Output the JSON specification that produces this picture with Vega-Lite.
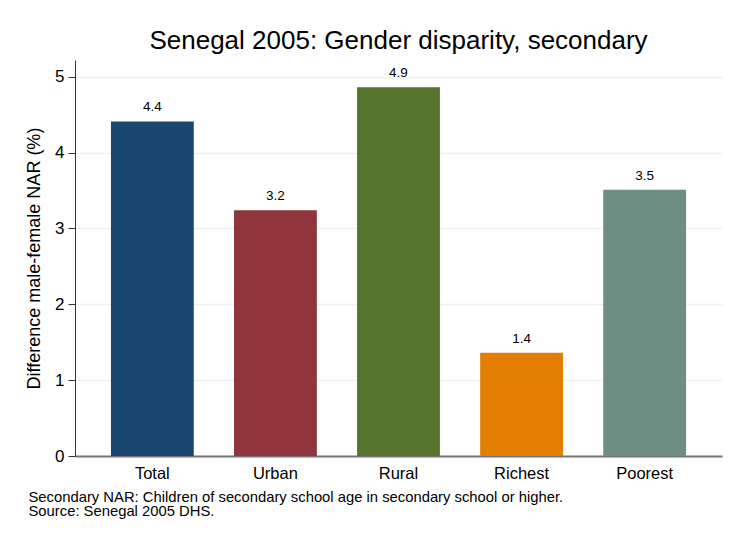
{
  "$schema": "https://vega.github.io/schema/vega-lite/v6.json",
  "width": 647,
  "height": 396,
  "autosize": {"type": "none"},
  "padding": {"left": 75, "top": 60, "right": 8, "bottom": 80},
  "background": "white",
  "config": {
    "font": "Liberation Sans",
    "view": {"stroke": null},
    "axis": {"labelColor": "#000", "titleColor": "#000", "titleFontWeight": "normal", "labelFont": "Liberation Sans", "titleFont": "Liberation Sans"}
  },
  "title": {
    "text": "Senegal 2005: Gender disparity, secondary",
    "fontSize": 26,
    "fontWeight": "normal",
    "color": "#000",
    "anchor": "middle",
    "baseline": "alphabetic",
    "offset": 9,
    "dy": 24
  },
  "data": {
    "values": [
      {"category": "Total", "value": 4.41},
      {"category": "Urban", "value": 3.24},
      {"category": "Rural", "value": 4.86},
      {"category": "Richest", "value": 1.36},
      {"category": "Poorest", "value": 3.51}
    ]
  },
  "encoding": {
    "x": {
      "field": "category",
      "type": "nominal",
      "sort": null,
      "scale": {"paddingInner": 0.327, "paddingOuter": 0.292},
      "axis": {
        "title": ["Secondary NAR: Children of secondary school age in secondary school or higher.", "Source: Senegal 2005 DHS."],
        "titleFontSize": 14.8,
        "titleLineHeight": 14.5,
        "titleAlign": "left",
        "titleAnchor": "start",
        "titleBaseline": "top",
        "titleX": -47,
        "titleY": 33,
        "labelAngle": 0,
        "labelFontSize": 16.5,
        "labelPadding": 9,
        "ticks": false,
        "domainColor": "#777777",
        "domainWidth": 2,
        "grid": false
      }
    },
    "y": {
      "field": "value",
      "type": "quantitative",
      "scale": {"domain": [0, 5.22], "nice": false},
      "axis": {
        "values": [0, 1, 2, 3, 4, 5],
        "title": "Difference male-female NAR (%)",
        "titleFontSize": 18,
        "titlePadding": 11,
        "labelFontSize": 17,
        "labelPadding": 4,
        "tickSize": 7,
        "tickColor": "#333333",
        "domainColor": "#333333",
        "grid": true,
        "gridColor": "#eaf2f3",
        "gridWidth": 1.5
      }
    }
  },
  "layer": [
    {
      "mark": {"type": "bar"},
      "encoding": {
        "color": {
          "field": "category",
          "type": "nominal",
          "sort": null,
          "scale": {
            "domain": ["Total", "Urban", "Rural", "Richest", "Poorest"],
            "range": ["#1a476f", "#90353b", "#55752f", "#e37e00", "#6e8e84"]
          },
          "legend": null
        }
      }
    },
    {
      "mark": {"type": "text", "baseline": "alphabetic", "dy": -10, "fontSize": 13.5, "color": "#000"},
      "encoding": {
        "text": {"field": "value", "type": "quantitative", "format": ".1f"}
      }
    }
  ]
}
